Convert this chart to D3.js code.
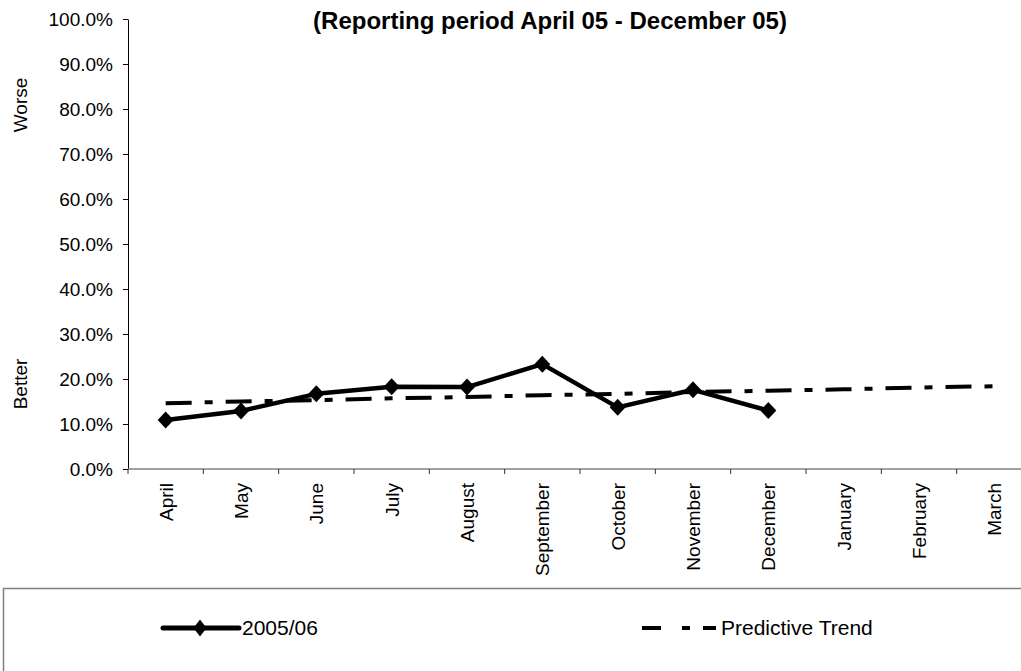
<!DOCTYPE html>
<html>
<head>
<meta charset="utf-8">
<script src="https://cdn.jsdelivr.net/npm/d3@7"></script>
<style>
  body { margin: 0; background: #fff; }
  text { font-family: "Liberation Sans", Arial, sans-serif; fill: #000; }
</style>
</head>
<body>
<div id="chart"></div>
<script>
/**
 * DATA
 * */
const months = ["April", "May", "June", "July", "August", "September",
  "October", "November", "December", "January", "February", "March"];
// 2005/06 actuals (April - December only)
const actual = [0.109, 0.129, 0.167, 0.183, 0.182, 0.233, 0.137, 0.176, 0.130];
// predictive trend, whole year
const trend = [0.146, 0.150, 0.153, 0.157, 0.160, 0.164, 0.167, 0.171, 0.174, 0.177, 0.181, 0.184];
const yTicks = [0, 0.1, 0.2, 0.3, 0.4, 0.5, 0.6, 0.7, 0.8, 0.9, 1.0];
const title = "(Reporting period April 05 - December 05)";
const seriesNames = ["2005/06", "Predictive Trend"];

/**
 * CONSTANTS
 * */
const width = 1021,
  height = 671,
  plot = { left: 128, right: 1032, top: 19, bottom: 469 };
const trendDash = "26,13,8,13";

const svg = d3.select("#chart")
  .append("svg")
  .attr("width", width)
  .attr("height", height);

const x = d3.scaleBand().domain(months).range([plot.left, plot.right]);
const y = d3.scaleLinear().domain([0, 1]).range([plot.bottom, plot.top]);

// title
svg.append("text")
  .attr("x", 550)
  .attr("y", 29)
  .attr("text-anchor", "middle")
  .attr("font-size", 24)
  .attr("font-weight", "bold")
  .text(title);

// y axis
const yAxis = svg.append("g")
  .attr("transform", `translate(${plot.left},0)`)
  .call(d3.axisLeft(y).tickValues(yTicks).tickFormat(d3.format(".1%")).tickSize(5).tickSizeOuter(0).tickPadding(10));
yAxis.select(".domain").attr("stroke", "#000");
yAxis.selectAll("text").attr("font-size", 19).attr("font-family", "Liberation Sans, Arial, sans-serif");

// x axis - ticks sit on the band edges, labels rotated
const xAxis = svg.append("g")
  .attr("transform", `translate(0,${plot.bottom})`);
xAxis.append("line")
  .attr("x1", plot.left).attr("x2", plot.right)
  .attr("stroke", "#808080").attr("stroke-width", 1.5);
xAxis.selectAll(".tick")
  .data(months)
  .join("line")
  .attr("class", "tick")
  .attr("x1", d => x(d)).attr("x2", d => x(d))
  .attr("y1", 0).attr("y2", 5)
  .attr("stroke", "#333");
xAxis.selectAll(".lbl")
  .data(months)
  .join("text")
  .attr("class", "lbl")
  .attr("text-anchor", "end")
  .attr("font-size", 19)
  .attr("transform", d => `translate(${x(d) + x.bandwidth() / 2 + 7},14) rotate(-90)`)
  .text(d => d);

// side labels
[["Worse", 105], ["Better", 384]].forEach(([t, cy]) => {
  svg.append("text")
    .attr("text-anchor", "middle")
    .attr("font-size", 19)
    .attr("transform", `translate(27,${cy}) rotate(-90)`)
    .text(t);
});

const cx = (d, i) => x(months[i]) + x.bandwidth() / 2;

// predictive trend
svg.append("path")
  .datum(trend)
  .attr("fill", "none")
  .attr("stroke", "#000")
  .attr("stroke-width", 4)
  .attr("stroke-dasharray", trendDash)
  .attr("d", d3.line().x(cx).y(d => y(d)));

// actuals
svg.append("path")
  .datum(actual)
  .attr("fill", "none")
  .attr("stroke", "#000")
  .attr("stroke-width", 4.5)
  .attr("stroke-linejoin", "round")
  .attr("d", d3.line().x(cx).y(d => y(d)));

const diamond = (w, h) => `M0,${-h}L${w},0L0,${h}L${-w},0Z`;
svg.selectAll(".pt")
  .data(actual)
  .join("path")
  .attr("class", "pt")
  .attr("transform", (d, i) => `translate(${cx(d, i)},${y(d)})`)
  .attr("d", diamond(8, 8.5))
  .attr("fill", "#000");

// legend box
svg.append("rect")
  .attr("x", 3.5).attr("y", 588.5)
  .attr("width", 1100).attr("height", 200)
  .attr("fill", "none")
  .attr("stroke", "#808080")
  .attr("stroke-width", 1.5);

const legend = svg.append("g");
legend.append("line")
  .attr("x1", 163).attr("x2", 239).attr("y1", 628).attr("y2", 628)
  .attr("stroke", "#000").attr("stroke-width", 5).attr("stroke-linecap", "round");
legend.append("path")
  .attr("transform", "translate(200,628)")
  .attr("d", diamond(6.5, 8.5))
  .attr("fill", "#000");
legend.append("text")
  .attr("x", 242).attr("y", 635)
  .attr("font-size", 21)
  .text(seriesNames[0]);

legend.append("line")
  .attr("x1", 642).attr("x2", 716).attr("y1", 628).attr("y2", 628)
  .attr("stroke", "#000").attr("stroke-width", 4)
  .attr("stroke-dasharray", "19,21,8,13");
legend.append("text")
  .attr("x", 721).attr("y", 635)
  .attr("font-size", 21)
  .text(seriesNames[1]);
</script>
</body>
</html>
